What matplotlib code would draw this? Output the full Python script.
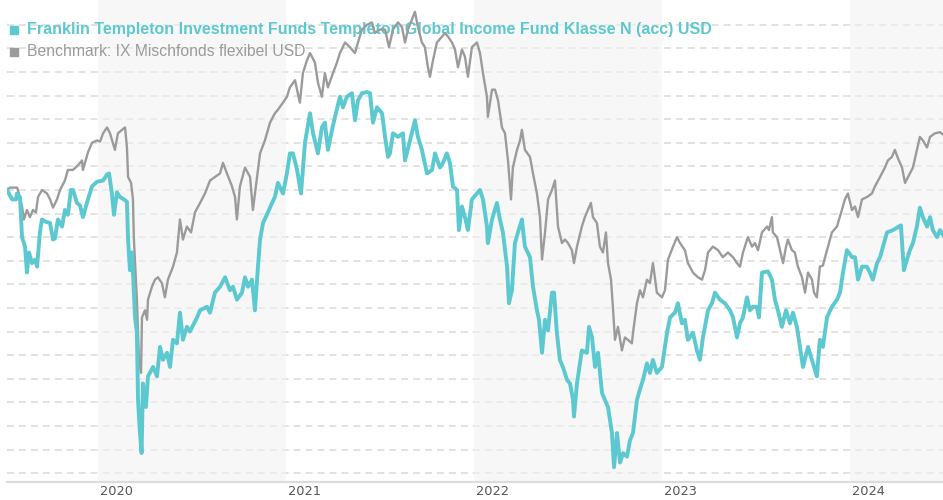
import matplotlib
matplotlib.use("Agg")
import matplotlib.pyplot as plt
import matplotlib.transforms as mtransforms
import numpy as np

# ---------------- data (time in decimal years, performance in %) ----------------
fund_t = [2019.516, 2019.543, 2019.564, 2019.569, 2019.585, 2019.596, 2019.612, 2019.622, 2019.633, 2019.649,
          2019.665, 2019.676, 2019.691, 2019.702, 2019.723, 2019.745, 2019.761, 2019.771, 2019.787, 2019.809,
          2019.824, 2019.840, 2019.856, 2019.867, 2019.888, 2019.904, 2019.920, 2019.941, 2019.968, 2019.995,
          2020.027, 2020.048, 2020.059, 2020.074, 2020.085, 2020.101, 2020.117, 2020.138, 2020.154, 2020.160,
          2020.170, 2020.181, 2020.197, 2020.207, 2020.213, 2020.223, 2020.232, 2020.239, 2020.255, 2020.266,
          2020.293, 2020.314, 2020.330, 2020.346, 2020.367, 2020.383, 2020.399, 2020.420, 2020.436, 2020.452,
          2020.473, 2020.489, 2020.527, 2020.543, 2020.580, 2020.596, 2020.622, 2020.649, 2020.676, 2020.702,
          2020.718, 2020.739, 2020.766, 2020.782, 2020.798, 2020.819, 2020.835, 2020.851, 2020.862, 2020.878,
          2020.904, 2020.926, 2020.941, 2020.957, 2020.984, 2021.005, 2021.021, 2021.037, 2021.059, 2021.080,
          2021.101, 2021.128, 2021.144, 2021.170, 2021.191, 2021.207, 2021.223, 2021.245, 2021.261, 2021.287,
          2021.303, 2021.324, 2021.351, 2021.367, 2021.383, 2021.404, 2021.431, 2021.447, 2021.463, 2021.484,
          2021.511, 2021.527, 2021.543, 2021.553, 2021.569, 2021.596, 2021.622, 2021.633, 2021.660, 2021.686,
          2021.702, 2021.723, 2021.750, 2021.777, 2021.793, 2021.819, 2021.835, 2021.856, 2021.872, 2021.888,
          2021.910, 2021.920, 2021.936, 2021.952, 2021.968, 2021.989, 2022.016, 2022.032, 2022.048, 2022.069,
          2022.074, 2022.096, 2022.122, 2022.138, 2022.154, 2022.176, 2022.186, 2022.202, 2022.218, 2022.234,
          2022.255, 2022.271, 2022.298, 2022.314, 2022.335, 2022.346, 2022.362, 2022.378, 2022.394, 2022.415,
          2022.426, 2022.441, 2022.457, 2022.473, 2022.495, 2022.511, 2022.527, 2022.532, 2022.548, 2022.574,
          2022.601, 2022.612, 2022.628, 2022.644, 2022.660, 2022.681, 2022.697, 2022.713, 2022.734, 2022.745,
          2022.761, 2022.777, 2022.793, 2022.814, 2022.830, 2022.846, 2022.867, 2022.883, 2022.899, 2022.920,
          2022.936, 2022.952, 2022.973, 2023.000, 2023.027, 2023.043, 2023.069, 2023.085, 2023.106, 2023.122,
          2023.138, 2023.165, 2023.186, 2023.202, 2023.218, 2023.245, 2023.266, 2023.282, 2023.309, 2023.335,
          2023.362, 2023.378, 2023.399, 2023.415, 2023.431, 2023.452, 2023.468, 2023.484, 2023.505, 2023.516,
          2023.532, 2023.564, 2023.585, 2023.601, 2023.617, 2023.638, 2023.660, 2023.681, 2023.697, 2023.718,
          2023.734, 2023.750, 2023.777, 2023.798, 2023.824, 2023.840, 2023.856, 2023.878, 2023.904, 2023.931,
          2023.947, 2023.963, 2023.984, 2024.011, 2024.027, 2024.043, 2024.064, 2024.090, 2024.106, 2024.122,
          2024.144, 2024.160, 2024.176, 2024.197, 2024.229, 2024.271, 2024.287, 2024.303, 2024.319, 2024.335,
          2024.356, 2024.372, 2024.388, 2024.410, 2024.426, 2024.441, 2024.463, 2024.479, 2024.495]
fund_v = [0.0, -0.8, -0.8, -0.3, -0.6, -4.0, -4.8, -7.0, -5.3, -6.2,
          -5.9, -6.5, -3.6, -2.5, -2.7, -2.8, -4.2, -4.1, -2.5, -3.1,
          -1.7, -2.1, 0.0, 0.0, -1.1, -1.3, -2.3, -1.1, 0.3, 0.7,
          0.8, 1.3, 1.4, -0.3, -2.1, -0.2, -0.6, -0.8, -1.0, -4.2,
          -6.8, -5.3, -10.8, -12.1, -17.8, -20.6, -22.3, -16.4, -18.4, -15.8,
          -15.0, -15.8, -13.3, -14.4, -13.8, -15.0, -12.7, -13.0, -10.4, -12.7,
          -11.6, -12.0, -10.8, -10.2, -9.9, -10.4, -8.7, -8.2, -7.4, -8.5,
          -8.2, -9.3, -8.7, -7.4, -8.2, -7.6, -10.2, -6.5, -4.2, -2.8,
          -1.9, -1.1, -0.6, 0.6, -0.3, 1.4, 3.1, 3.1, 1.7, -0.3,
          4.0, 6.5, 4.8, 3.1, 5.3, 5.7, 3.4, 5.1, 6.2, 7.9,
          7.0, 7.9, 8.2, 5.9, 7.6, 8.2, 8.3, 8.2, 5.7, 7.0,
          6.5, 4.5, 2.8, 3.1, 4.8, 4.5, 4.8, 2.5, 4.2, 5.9,
          4.5, 3.4, 1.4, 1.7, 3.1, 1.9, 2.3, 3.1, 2.3, 0.3,
          0.0, -3.4, -1.4, -2.3, -3.4, -0.8, -0.3, 0.0, -0.8, -3.1,
          -4.5, -2.5, -1.1, -2.5, -3.6, -6.5, -9.6, -8.5, -4.5, -3.6,
          -2.5, -4.8, -5.7, -8.2, -10.2, -11.0, -13.8, -11.0, -11.9, -8.7,
          -8.7, -12.1, -14.4, -15.0, -16.1, -16.4, -17.8, -19.2, -16.4, -13.6,
          -13.8, -11.6, -12.5, -15.0, -13.8, -17.2, -17.8, -18.4, -20.6, -23.5,
          -20.6, -23.1, -22.3, -22.6, -21.2, -20.6, -17.8, -16.9, -16.1, -14.7,
          -15.5, -14.4, -15.5, -15.0, -12.1, -10.8, -10.4, -9.6, -11.3, -11.0,
          -12.7, -12.1, -13.6, -14.4, -12.5, -10.2, -9.6, -8.7, -9.3, -9.6,
          -10.2, -10.8, -12.5, -11.3, -10.8, -9.1, -10.2, -9.9, -9.9, -10.8,
          -7.0, -6.9, -7.6, -9.3, -10.2, -11.6, -10.2, -11.3, -10.4, -11.6,
          -13.3, -15.0, -13.3, -14.4, -15.8, -12.7, -13.3, -10.8, -9.9, -9.3,
          -8.7, -7.0, -5.1, -5.7, -5.7, -7.6, -6.5, -6.5, -7.0, -7.6,
          -6.2, -5.7, -4.8, -3.6, -3.4, -3.0, -6.8, -5.9, -5.1, -4.5,
          -3.1, -1.5, -2.3, -3.1, -2.3, -3.4, -4.0, -3.4, -3.8]

bench_t = [2019.516, 2019.532, 2019.569, 2019.574, 2019.596, 2019.606, 2019.622, 2019.638, 2019.654, 2019.670,
           2019.681, 2019.702, 2019.729, 2019.745, 2019.761, 2019.782, 2019.798, 2019.824, 2019.840, 2019.867,
           2019.894, 2019.915, 2019.920, 2019.947, 2019.968, 2019.995, 2020.011, 2020.027, 2020.048, 2020.064,
           2020.090, 2020.106, 2020.128, 2020.144, 2020.154, 2020.160, 2020.176, 2020.186, 2020.191, 2020.207,
           2020.218, 2020.229, 2020.234, 2020.250, 2020.261, 2020.266, 2020.287, 2020.303, 2020.319, 2020.340,
           2020.356, 2020.372, 2020.399, 2020.420, 2020.436, 2020.452, 2020.473, 2020.495, 2020.516, 2020.543,
           2020.569, 2020.596, 2020.622, 2020.649, 2020.665, 2020.686, 2020.713, 2020.729, 2020.739, 2020.755,
           2020.782, 2020.809, 2020.824, 2020.846, 2020.862, 2020.888, 2020.915, 2020.941, 2020.957, 2020.984,
           2021.005, 2021.021, 2021.048, 2021.074, 2021.090, 2021.112, 2021.128, 2021.154, 2021.170, 2021.191,
           2021.207, 2021.223, 2021.250, 2021.271, 2021.287, 2021.314, 2021.340, 2021.367, 2021.383, 2021.404,
           2021.431, 2021.457, 2021.473, 2021.500, 2021.527, 2021.548, 2021.569, 2021.596, 2021.617, 2021.633,
           2021.649, 2021.676, 2021.686, 2021.702, 2021.723, 2021.739, 2021.755, 2021.766, 2021.782, 2021.803,
           2021.830, 2021.846, 2021.862, 2021.883, 2021.899, 2021.915, 2021.936, 2021.952, 2021.968, 2021.989,
           2022.016, 2022.032, 2022.048, 2022.069, 2022.074, 2022.096, 2022.112, 2022.128, 2022.149, 2022.165,
           2022.181, 2022.197, 2022.207, 2022.229, 2022.245, 2022.255, 2022.271, 2022.298, 2022.314, 2022.335,
           2022.351, 2022.362, 2022.378, 2022.394, 2022.415, 2022.431, 2022.447, 2022.468, 2022.484, 2022.500,
           2022.521, 2022.532, 2022.548, 2022.574, 2022.590, 2022.606, 2022.622, 2022.633, 2022.654, 2022.670,
           2022.686, 2022.702, 2022.713, 2022.729, 2022.739, 2022.750, 2022.766, 2022.787, 2022.803, 2022.819,
           2022.840, 2022.846, 2022.867, 2022.883, 2022.899, 2022.920, 2022.936, 2022.952, 2022.973, 2023.000,
           2023.016, 2023.032, 2023.059, 2023.080, 2023.096, 2023.122, 2023.138, 2023.165, 2023.191, 2023.213,
           2023.229, 2023.245, 2023.271, 2023.298, 2023.324, 2023.351, 2023.378, 2023.399, 2023.415, 2023.431,
           2023.457, 2023.479, 2023.495, 2023.511, 2023.532, 2023.559, 2023.569, 2023.585, 2023.590, 2023.612,
           2023.628, 2023.644, 2023.660, 2023.670, 2023.691, 2023.707, 2023.723, 2023.745, 2023.761, 2023.777,
           2023.798, 2023.809, 2023.824, 2023.840, 2023.856, 2023.878, 2023.904, 2023.931, 2023.957, 2023.973,
           2023.989, 2024.011, 2024.027, 2024.043, 2024.064, 2024.090, 2024.117, 2024.133, 2024.160, 2024.186,
           2024.202, 2024.223, 2024.239, 2024.255, 2024.277, 2024.293, 2024.309, 2024.335, 2024.356, 2024.372,
           2024.388, 2024.410, 2024.426, 2024.452, 2024.479, 2024.495]
bench_v = [0.0, 0.2, 0.2, 0.0, -1.4, -2.5, -1.7, -2.3, -1.7, -1.9,
           -0.6, 0.0, -0.3, -0.8, -1.5, -0.8, 0.0, 0.8, 1.7, 1.7,
           2.1, 2.5, 1.7, 3.2, 4.0, 4.2, 4.1, 4.8, 5.3, 4.8,
           3.4, 4.8, 5.1, 5.3, 3.6, 1.1, 0.6, -0.8, -4.2, -9.3,
           -14.4, -15.5, -10.8, -10.2, -11.0, -9.3, -8.2, -7.6, -7.4, -7.9,
           -9.1, -7.6, -6.5, -5.3, -2.5, -4.2, -3.1, -3.6, -1.9, -1.1,
           -0.3, 0.8, 1.1, 1.4, 2.3, 1.4, 0.3, -0.6, -2.5, 0.3,
           1.9, 1.1, -1.7, 1.1, 3.1, 4.2, 5.7, 6.5, 6.8, 7.4,
           7.9, 8.7, 9.3, 7.4, 9.9, 11.0, 11.6, 10.8, 9.1, 7.9,
           9.9, 8.7, 9.9, 10.8, 11.6, 12.5, 12.1, 11.6, 12.5, 13.6,
           14.0, 14.2, 13.3, 13.6, 13.6, 12.1, 13.6, 14.2, 13.8, 12.5,
           13.6, 14.7, 15.1, 13.8, 12.5, 12.1, 10.4, 9.6, 11.0, 12.5,
           13.0, 13.3, 13.0, 12.5, 11.9, 10.4, 11.9, 11.3, 9.6, 12.1,
           12.5, 11.6, 9.9, 7.9, 6.2, 8.5, 8.5, 7.6, 5.3, 4.8,
           2.5, -0.8, 1.9, 3.4, 4.2, 5.1, 3.4, 2.8, 1.4, -0.3,
           -2.3, -5.9, -3.6, -0.8, 0.0, 0.8, -3.1, -4.5, -4.2, -4.5,
           -5.1, -6.2, -4.8, -3.1, -2.3, -1.7, -1.1, -2.3, -2.8, -4.8,
           -5.3, -3.6, -6.2, -7.6, -9.9, -12.7, -11.6, -13.6, -12.5, -12.7,
           -13.0, -12.1, -9.6, -8.5, -9.1, -7.6, -7.9, -6.2, -8.7, -9.1,
           -8.5, -5.9, -4.8, -4.0, -4.5, -5.1, -6.2, -7.0, -7.4, -7.6,
           -6.8, -5.3, -4.8, -5.1, -5.7, -5.3, -5.7, -6.2, -6.5, -5.3,
           -4.0, -4.8, -4.5, -5.1, -3.6, -3.1, -3.4, -2.3, -3.6, -4.0,
           -5.1, -6.2, -4.8, -4.2, -5.1, -5.3, -6.5, -7.4, -8.7, -7.0,
           -7.6, -8.7, -9.1, -6.5, -6.4, -5.1, -3.6, -3.1, -1.7, -0.8,
           -0.3, -1.7, -1.4, -2.3, -0.8, -0.6, -0.3, 0.3, 1.1, 1.9,
           2.5, 2.8, 3.4, 2.7, 1.9, 0.6, 1.1, 1.9, 3.4, 4.5,
           4.2, 3.6, 4.5, 4.8, 4.9, 4.7]

year_ticks = [2020, 2021, 2022, 2023, 2024]
year_labels = ["2020", "2021", "2022", "2023", "2024"]
shaded_years = [(2020, 2021), (2022, 2023), (2024, 2025)]
grid_levels = list(range(-24, 15, 2))

fund_name = "Franklin Templeton Investment Funds Templeton Global Income Fund Klasse N (acc) USD"
bench_name = "Benchmark: IX Mischfonds flexibel USD"

TEAL = "#5cc8cf"
GREY = "#9b9b9b"

# ---------------- figure ----------------
plt.rcParams["lines.scale_dashes"] = False
fig = plt.figure(figsize=(9.43, 5.0), dpi=100)
ax = fig.add_axes([7 / 943, 18 / 500, 936 / 943, 482 / 500])

x0, x1 = fund_t[0], fund_t[-1]
ax.set_xlim(x0, x1)
ax.set_ylim(-24.75, 16.1)

# horizontal dashed grid
for g in grid_levels:
    ax.axhline(g, color="#dadada", lw=1.1, ls=(0, (5, 3.6)), zorder=0.5)

# alternating year shading
for a, b in shaded_years:
    ax.axvspan(a, min(b, x1 + 1), color="#f2f2f2", alpha=0.6, lw=0, zorder=0.6)

# legend-like header (drawn below the lines)
ax.plot([0.0070], [0.9378], marker="s", ms=5.4, color=TEAL, transform=ax.transAxes,
        clip_on=False, zorder=1, ls="none")
ax.plot([0.0070], [0.8925], marker="s", ms=5.4, color=GREY, transform=ax.transAxes,
        clip_on=False, zorder=1, ls="none")
ax.text(0.0214, 0.9378, fund_name, transform=ax.transAxes, color=TEAL, fontsize=11.5,
        fontweight="bold", family="Liberation Sans", va="center", ha="left", zorder=1)
ax.text(0.0214, 0.8925, bench_name, transform=ax.transAxes, color=GREY, fontsize=11.3,
        family="Liberation Sans", va="center", ha="left", zorder=1)

# series
ax.plot(bench_t, bench_v, color=GREY, lw=1.7, zorder=3, solid_joinstyle="round")
ax.plot(fund_t, fund_v, color=TEAL, lw=2.8, zorder=4, solid_joinstyle="round")

# axes styling
for s in ["left", "right", "top"]:
    ax.spines[s].set_visible(False)
ax.spines["bottom"].set_color("#dcdcdc")
ax.spines["bottom"].set_linewidth(1.6)
ax.set_yticks([])
ax.set_xticks(year_ticks)
ax.set_xticklabels(year_labels)
ax.tick_params(axis="x", length=0, pad=2.5, labelsize=9.3, labelcolor="#555555")
offset = mtransforms.ScaledTranslation(2 / 100, 0, fig.dpi_scale_trans)
for lbl in ax.get_xticklabels():
    lbl.set_horizontalalignment("left")
    lbl.set_transform(lbl.get_transform() + offset)
    lbl.set_family("DejaVu Sans")

fig.savefig("out.png", dpi=100)
